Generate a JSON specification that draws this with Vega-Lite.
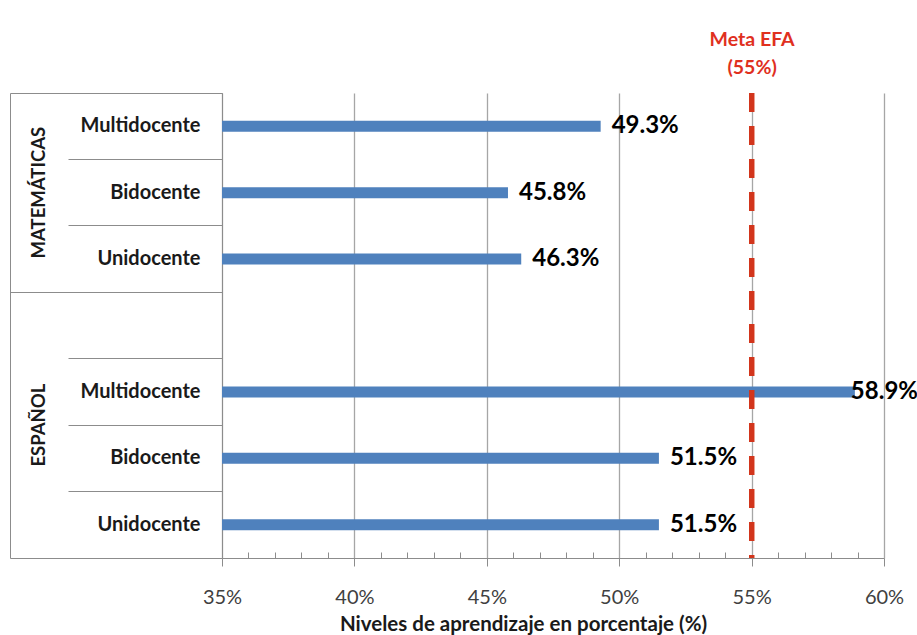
{
  "$schema": "https://vega.github.io/schema/vega-lite/v6.json",
  "width": 662,
  "height": 465,
  "autosize": {"type": "none"},
  "padding": {"left": 222, "top": 93, "right": 33, "bottom": 77},
  "background": "white",
  "config": {"view": {"stroke": null}, "font": "Lato"},
  "data": {
    "values": [
      {"fila": "MATEMÁTICAS|Multidocente", "asignatura": "MATEMÁTICAS", "modalidad": "Multidocente", "valor": 0.493},
      {"fila": "MATEMÁTICAS|Bidocente", "asignatura": "MATEMÁTICAS", "modalidad": "Bidocente", "valor": 0.458},
      {"fila": "MATEMÁTICAS|Unidocente", "asignatura": "MATEMÁTICAS", "modalidad": "Unidocente", "valor": 0.463},
      {"fila": "ESPAÑOL|Multidocente", "asignatura": "ESPAÑOL", "modalidad": "Multidocente", "valor": 0.589},
      {"fila": "ESPAÑOL|Bidocente", "asignatura": "ESPAÑOL", "modalidad": "Bidocente", "valor": 0.515},
      {"fila": "ESPAÑOL|Unidocente", "asignatura": "ESPAÑOL", "modalidad": "Unidocente", "valor": 0.515}
    ]
  },
  "resolve": {"axis": {"x": "independent", "y": "independent"}},
  "layer": [
    {
      "mark": {"type": "bar", "height": 11, "color": "#4F81BD"},
      "encoding": {
        "y": {
          "field": "fila", "type": "nominal",
          "scale": {"domain": ["MATEMÁTICAS|Multidocente", "MATEMÁTICAS|Bidocente", "MATEMÁTICAS|Unidocente", "|", "ESPAÑOL|Multidocente", "ESPAÑOL|Bidocente", "ESPAÑOL|Unidocente"], "paddingInner": 0, "paddingOuter": 0},
          "axis": {
            "orient": "left", "title": null, "bandPosition": 0,
            "tickSize": 154, "tickColor": "#8C8C8C", "domainColor": "#8C8C8C",
            "labelExpr": "split(datum.value, '|')[1]",
            "labelFont": "Lato", "labelFontSize": 20, "labelFontWeight": "bold", "labelColor": "#1A1A1A",
            "labelPadding": -132, "labelAlign": "right", "labelBaseline": "middle",
            "labelBound": false, "labelOverlap": false, "labelLimit": 300, "grid": false
          }
        },
        "x": {
          "field": "valor", "type": "quantitative",
          "scale": {"domain": [0.35, 0.6], "nice": false, "zero": false},
          "axis": {
            "orient": "bottom", "values": [0.35, 0.4, 0.45, 0.5, 0.55, 0.6], "format": ".0%",
            "grid": true, "gridColor": "#A6A6A6", "gridWidth": 1.3,
            "tickSize": 8, "tickColor": "#8C8C8C", "domainColor": "#8C8C8C",
            "labelFont": "Lato", "labelFontSize": 20, "labelColor": "#404040",
            "labelBaseline": "alphabetic", "labelPadding": 37, "labelFlush": false, "labelOverlap": false,
            "title": "Niveles de aprendizaje en porcentaje (%)",
            "titleFont": "Lato", "titleFontSize": 20.5, "titleFontWeight": "bold", "titleColor": "#1A1A1A",
            "titleX": 301, "titleY": 72, "titleAlign": "center", "titleBaseline": "alphabetic"
          }
        },
        "x2": {"datum": 0.35}
      }
    },
    {
      "mark": {"type": "text", "align": "left", "baseline": "middle", "dx": {"expr": "datum.valor > 0.58 ? -4 : 11"}, "font": "Lato", "fontSize": 24, "fontWeight": "bold", "color": "#000000"},
      "encoding": {
        "y": {
          "field": "fila", "type": "nominal",
          "scale": {"domain": ["MATEMÁTICAS|Multidocente", "MATEMÁTICAS|Bidocente", "MATEMÁTICAS|Unidocente", "|", "ESPAÑOL|Multidocente", "ESPAÑOL|Bidocente", "ESPAÑOL|Unidocente"], "paddingInner": 0, "paddingOuter": 0},
          "axis": {
            "orient": "left", "title": null, "bandPosition": 1,
            "values": ["MATEMÁTICAS|Unidocente", "ESPAÑOL|Unidocente"],
            "tickSize": 212, "tickColor": "#8C8C8C", "domain": false,
            "labelExpr": "datum.value == 'MATEMÁTICAS|Unidocente' ? 'ESPAÑOL' : ''",
            "labelOffset": 166, "labelAngle": 270,
            "labelFont": "Lato", "labelFontSize": 18.5, "labelFontWeight": "bold", "labelColor": "#1A1A1A",
            "labelPadding": -28, "labelAlign": "center", "labelBaseline": "middle",
            "labelBound": false, "labelOverlap": false, "grid": false
          }
        },
        "x": {
          "field": "valor", "type": "quantitative",
          "axis": {
            "orient": "bottom", "values": [0.36, 0.37, 0.38, 0.39, 0.41, 0.42, 0.43, 0.44, 0.46, 0.47, 0.48, 0.49, 0.51, 0.52, 0.53, 0.54, 0.56, 0.57, 0.58, 0.59],
            "labels": false, "domain": false, "grid": false, "title": null,
            "tickSize": -6, "tickColor": "#8C8C8C"
          }
        },
        "text": {"field": "valor", "type": "quantitative", "format": ".1%"}
      }
    },
    {
      "mark": {"type": "rule", "color": "#D2351C", "strokeWidth": 5, "strokeDash": [19, 14]},
      "encoding": {
        "x": {
          "datum": 0.55, "type": "quantitative",
          "axis": {
            "orient": "top", "values": [0.55], "labelExpr": "['Meta EFA', '(55%)']",
            "ticks": false, "domain": false, "grid": false, "title": null,
            "labelFont": "Lato", "labelFontSize": 19.5, "labelFontWeight": "bold", "labelColor": "#E0301E",
            "labelLineHeight": 28, "labelBaseline": "bottom", "labelPadding": 44, "labelFlush": false
          }
        }
      }
    },
    {
      "mark": {"type": "text", "text": ""},
      "encoding": {
        "y": {
          "field": "fila", "type": "nominal",
          "scale": {"domain": ["MATEMÁTICAS|Multidocente", "MATEMÁTICAS|Bidocente", "MATEMÁTICAS|Unidocente", "|", "ESPAÑOL|Multidocente", "ESPAÑOL|Bidocente", "ESPAÑOL|Unidocente"], "paddingInner": 0, "paddingOuter": 0},
          "axis": {
            "orient": "left", "title": null, "bandPosition": 0, "offset": 212,
            "values": ["MATEMÁTICAS|Multidocente"],
            "tickSize": -212, "tickColor": "#8C8C8C", "domain": true, "domainColor": "#8C8C8C",
            "labelExpr": "split(datum.value, '|')[0]",
            "labelOffset": 66.43, "labelAngle": 270,
            "labelFont": "Lato", "labelFontSize": 18.5, "labelFontWeight": "bold", "labelColor": "#1A1A1A",
            "labelPadding": 184, "labelAlign": "center", "labelBaseline": "middle",
            "labelBound": false, "labelOverlap": false, "grid": false
          }
        },
        "x": {"field": "valor", "type": "quantitative", "axis": null}
      }
    }
  ]
}
